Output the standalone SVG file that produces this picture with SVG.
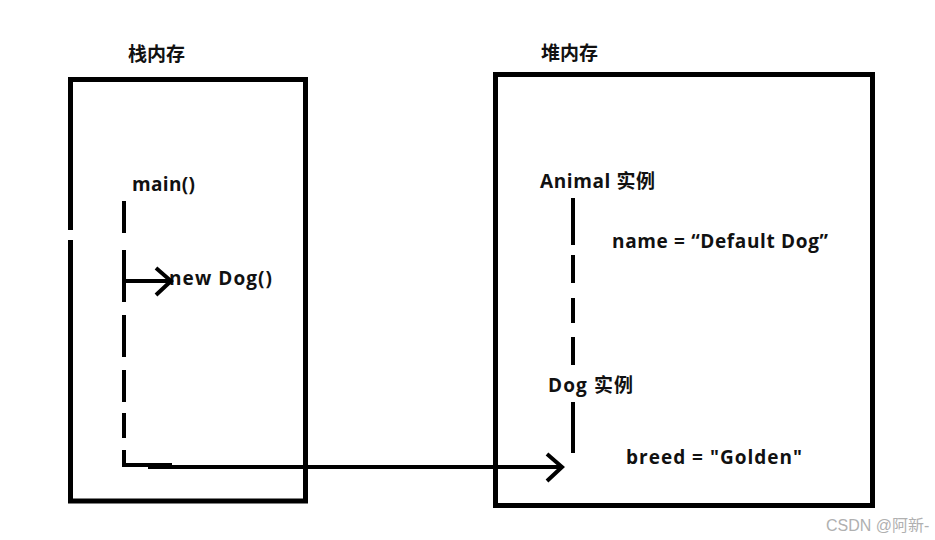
<svg xmlns="http://www.w3.org/2000/svg" width="935" height="540" viewBox="0 0 935 540">
  <defs>
    <style>
      .box { fill: none; stroke: #000; stroke-width: 5; }
      .ln { fill: none; stroke: #000; stroke-width: 4; }
      .t { font-family: "Open Sans", "Noto Sans CJK SC", sans-serif; font-weight: bold; font-size: 19px; fill: #111; }
      .h { font-family: "Noto Sans CJK SC", sans-serif; font-weight: bold; font-size: 19px; fill: #111; }
      .wm { font-family: "Liberation Sans", "Noto Sans CJK SC", sans-serif; font-size: 16px; fill: #b0b0b0; }
    </style>
    <marker id="chev" viewBox="-20 -20 40 40" markerWidth="40" markerHeight="40" refX="0" refY="0" orient="auto" markerUnits="userSpaceOnUse">
      <path d="M-15,-13 L0,0 L-15,14" fill="none" stroke="#000" stroke-width="4"/>
    </marker>
  </defs>
  <rect width="935" height="540" fill="#fff"/>

  <g id="stack">
    <text class="h" x="128" y="61">栈内存</text>
    <rect class="box" x="70.5" y="79.5" width="235" height="421.5"/>
    <rect x="67" y="230" width="6" height="10" fill="#fff"/>
  </g>

  <g id="heap">
    <text class="h" x="541" y="60">堆内存</text>
    <rect class="box" x="495.5" y="74.5" width="377" height="431"/>
  </g>

  <g id="main">
    <text class="t" x="132" y="191" textLength="63" lengthAdjust="spacing">main()</text>
  </g>
  <g id="newdog">
    <text class="t" x="169" y="285" textLength="103" lengthAdjust="spacing">new Dog()</text>
  </g>
  <g id="animal">
    <text class="t" x="540" y="188" textLength="115" lengthAdjust="spacing">Animal 实例</text>
  </g>
  <g id="name">
    <text class="t" x="612" y="248" textLength="216" lengthAdjust="spacing">name = “Default Dog”</text>
  </g>
  <g id="dog">
    <text class="t" x="548" y="392" textLength="85" lengthAdjust="spacing">Dog 实例</text>
  </g>
  <g id="breed">
    <text class="t" x="626" y="464" textLength="176" lengthAdjust="spacing">breed = "Golden"</text>
  </g>

  <g id="connectors">
    <path class="ln" d="M124,201 V233 M124,250 V302 M124,315 V357 M124,370 V402 M124,413 V438 M124,450 V467"/>
    <path class="ln" d="M573,198 V245 M573,255 V283 M573,298 V323 M573,337 V365 M573,402 V453"/>
    <path class="ln" d="M124,281 H171" marker-end="url(#chev)"/>
    <path class="ln" d="M122,465 H172"/>
    <path class="ln" d="M148,467 H562" marker-end="url(#chev)"/>
  </g>

  <text class="wm" x="826" y="531">CSDN @阿新-</text>
</svg>
